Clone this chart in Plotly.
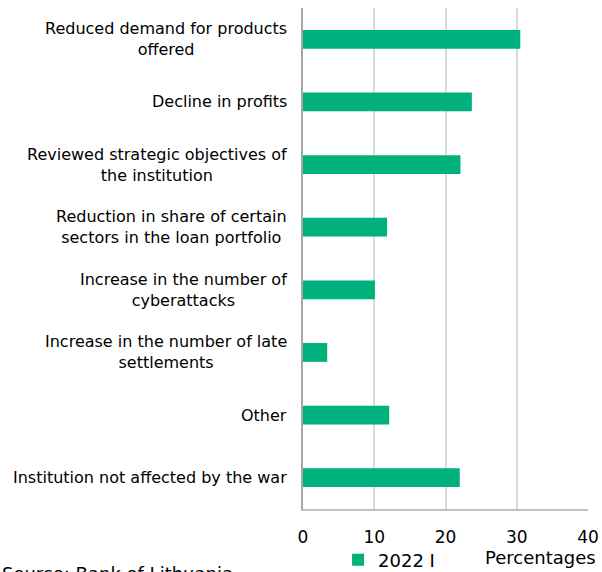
import plotly.graph_objects as go

# Effects of the war on financial institutions (share of respondents, %)
categories = [
    "Reduced demand for products<br>offered",
    "Decline in profits",
    "Reviewed strategic objectives of<br>the institution",
    "Reduction in share of certain<br>sectors in the loan portfolio",
    "Increase in the number of<br>cyberattacks",
    "Increase in the number of late<br>settlements",
    "Other",
    "Institution not affected by the war",
]
values_2022_i = [30.5, 23.7, 22.1, 11.8, 10.1, 3.4, 12.1, 22.0]
series_name = "2022 I"
x_ticks = [0, 10, 20, 30, 40]

GREEN = "#00B07D"
FONT = "DejaVu Sans"

W, H = 602, 572
L, R, T, B = 303, 14, 8, 63
plot_w = W - L - R
plot_h = H - T - B
axis_y = H - B  # pixel row of the x axis


def below_axis(py):
    """Paper y coordinate for a pixel row below the plot area."""
    return -(py - axis_y) / plot_h


fig = go.Figure()
fig.add_trace(go.Bar(
    x=values_2022_i,
    y=list(range(len(categories))),
    orientation="h",
    width=0.3,
    marker=dict(color=GREEN, line=dict(width=0)),
    name=series_name,
    showlegend=True,
))

# category labels, centred lines, right-aligned block beside the axis
for i, cat in enumerate(categories):
    fig.add_annotation(
        x=0, xref="paper", y=i, yref="y",
        text=cat, showarrow=False,
        xanchor="right", yanchor="middle", align="center",
        xshift=-14,
        font=dict(family=FONT, size=16, color="#000000"),
    )

fig.add_annotation(
    x=1, xref="paper", y=below_axis(557), yref="paper",
    text="Percentages", showarrow=False,
    xanchor="right", yanchor="middle", xshift=10,
    font=dict(family=FONT, size=18, color="#000000"),
)
fig.add_annotation(
    x=-L / plot_w, xref="paper", y=below_axis(561), yref="paper",
    text="Source: Bank of Lithuania", showarrow=False,
    xanchor="left", yanchor="top",
    font=dict(family=FONT, size=18, color="#000000"),
)

fig.update_layout(
    width=W, height=H,
    margin=dict(l=L, r=R, t=T, b=B, autoexpand=False),
    paper_bgcolor="white", plot_bgcolor="white",
    legend=dict(
        orientation="h", x=0.123, xanchor="left",
        y=below_axis(560), yanchor="middle",
        font=dict(family=FONT, size=18, color="#000000"),
        bgcolor="rgba(0,0,0,0)",
    ),
)
fig.update_xaxes(
    range=[0, 40], tickvals=x_ticks, ticktext=[str(v) for v in x_ticks],
    showgrid=True, gridcolor="#d9d9d9", gridwidth=1.5,
    showline=True, linecolor="#c0c0c0", linewidth=1.5,
    zeroline=False, ticks="", ticklabelstandoff=12,
    tickfont=dict(family=FONT, size=17, color="#000000"),
    fixedrange=True,
)
fig.update_yaxes(
    range=[len(categories) - 0.5, -0.5],
    showticklabels=False, showgrid=False, zeroline=False,
    showline=True, linecolor="#a6a6a6", linewidth=1.5,
    ticks="", fixedrange=True,
)

fig.write_html("out.html")
